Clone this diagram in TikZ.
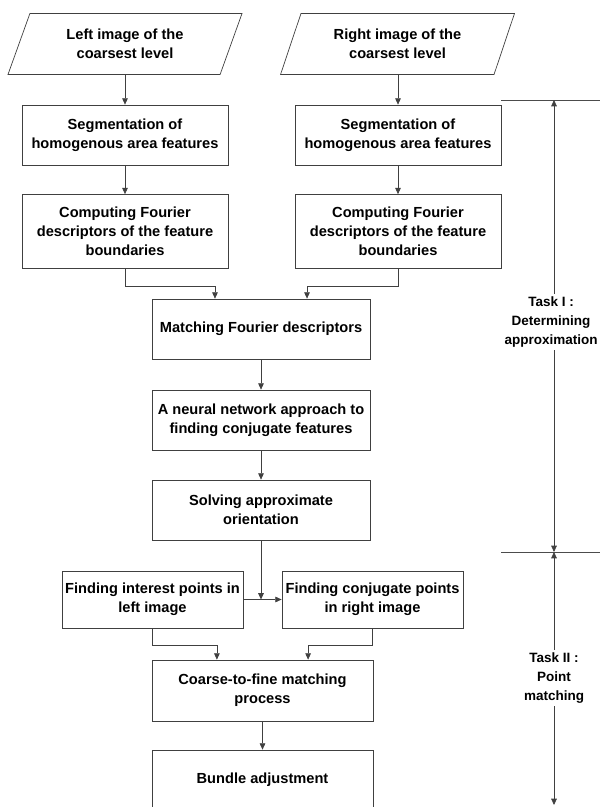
\documentclass[tikz,border=0pt]{standalone}
\usepackage{fontspec}
\setmainfont{Liberation Sans}
\usetikzlibrary{shapes.geometric,arrows.meta}

\tikzset{
  procBox/.style={draw=black!75, line width=0.5pt, align=center, inner sep=1pt,
    font=\fontsize{10.4}{13.5}\selectfont\bfseries},
  ioBox/.style={procBox, trapezium, trapezium left angle=67, trapezium right angle=113,
    trapezium stretches=true, minimum width=5.85cm, minimum height=1.525cm},
  flowArrow/.style={draw=black!75, line width=0.5pt, -{Triangle[length=4.5pt,width=4pt]}},
  taskLabel/.style={align=center, inner sep=2pt, font=\fontsize{9.6}{13.5}\selectfont\bfseries},
  taskLine/.style={draw=black!70, line width=0.5pt}
}

\begin{document}
\begin{tikzpicture}[x=0.025cm, y=-0.025cm]

  \clip (0,0) rectangle (600,807);

  % two input images
  \node[ioBox] (leftImg) at (125,44) {Left image of the\\coarsest level};
  \node[ioBox] (rightImg) at (397.5,44) {Right image of the\\coarsest level};

  % left and right columns
  \node[procBox, minimum width=5.15cm, minimum height=1.5cm] (segL) at (125,135)
    {Segmentation of\\homogenous area features};
  \node[procBox, minimum width=5.15cm, minimum height=1.85cm] (fourL) at (125,231.5)
    {Computing Fourier\\descriptors of the feature\\boundaries};
  \node[procBox, minimum width=5.15cm, minimum height=1.5cm] (segR) at (398,135)
    {Segmentation of\\homogenous area features};
  \node[procBox, minimum width=5.15cm, minimum height=1.85cm] (fourR) at (398,231.5)
    {Computing Fourier\\descriptors of the feature\\boundaries};

  % middle column
  \node[procBox, minimum width=5.45cm, minimum height=1.5cm] (match) at (261,329)
    {Matching Fourier descriptors};
  \node[procBox, minimum width=5.45cm, minimum height=1.5cm] (neural) at (261,420)
    {A neural network approach to\\finding conjugate features};
  \node[procBox, minimum width=5.45cm, minimum height=1.5cm] (solve) at (261,510)
    {Solving approximate\\orientation};

  \node[procBox, minimum width=4.525cm, minimum height=1.425cm] (interest) at (152.5,599.5)
    {Finding interest points in\\left image};
  \node[procBox, minimum width=4.525cm, minimum height=1.425cm] (conjug) at (372.5,599.5)
    {Finding conjugate points\\in right image};

  \node[procBox, minimum width=5.525cm, minimum height=1.525cm] (coarse) at (262.5,690.5)
    {Coarse-to-fine matching\\process};
  \node[procBox, minimum width=5.525cm, minimum height=1.5cm] (bundle) at (262.5,780)
    {Bundle adjustment};

  % flow
  \draw[flowArrow] (segL.north |- leftImg.bottom side) -- (segL);
  \draw[flowArrow] (segL) -- (fourL);
  \draw[flowArrow] (segR.north |- rightImg.bottom side) -- (segR);
  \draw[flowArrow] (segR) -- (fourR);
  \draw[flowArrow] (fourL.south) -- ++(0,17) -| ([xshift=-1.15cm]match.north);
  \draw[flowArrow] (fourR.south) -- ++(0,17) -| ([xshift=1.15cm]match.north);
  \draw[flowArrow] (match) -- (neural);
  \draw[flowArrow] (neural) -- (solve);

  \coordinate (junc) at (solve.south |- interest.east);
  \draw[flowArrow] (solve) -- (junc);
  \draw[flowArrow] (interest.east) -- (conjug.west);

  \draw[flowArrow] (interest.south) -- ++(0,17) -| ([xshift=-1.14cm]coarse.north);
  \draw[flowArrow] (conjug.south) -- ++(0,17) -| ([xshift=1.14cm]coarse.north);
  \draw[flowArrow] (coarse) -- (bundle);

  % task brackets on the right
  \coordinate (topT) at (554,100);
  \coordinate (midT) at (554,552);
  \coordinate (botT) at (554,805);
  \draw[taskLine] (topT -| segR.east) -- (600,100);
  \draw[taskLine] (midT -| segR.east) -- (600,552);

  \node[taskLabel] (taskOne) at (551,322) {Task I :\\Determining\\approximation};
  \node[taskLabel] (taskTwo) at (554,678) {Task II :\\Point\\matching};

  \draw[flowArrow] (taskOne.north -| topT) -- (topT);
  \draw[flowArrow] (taskOne.south -| midT) -- (midT);
  \draw[flowArrow] (taskTwo) -- (midT);
  \draw[flowArrow] (taskTwo) -- (botT);

\end{tikzpicture}
\end{document}
